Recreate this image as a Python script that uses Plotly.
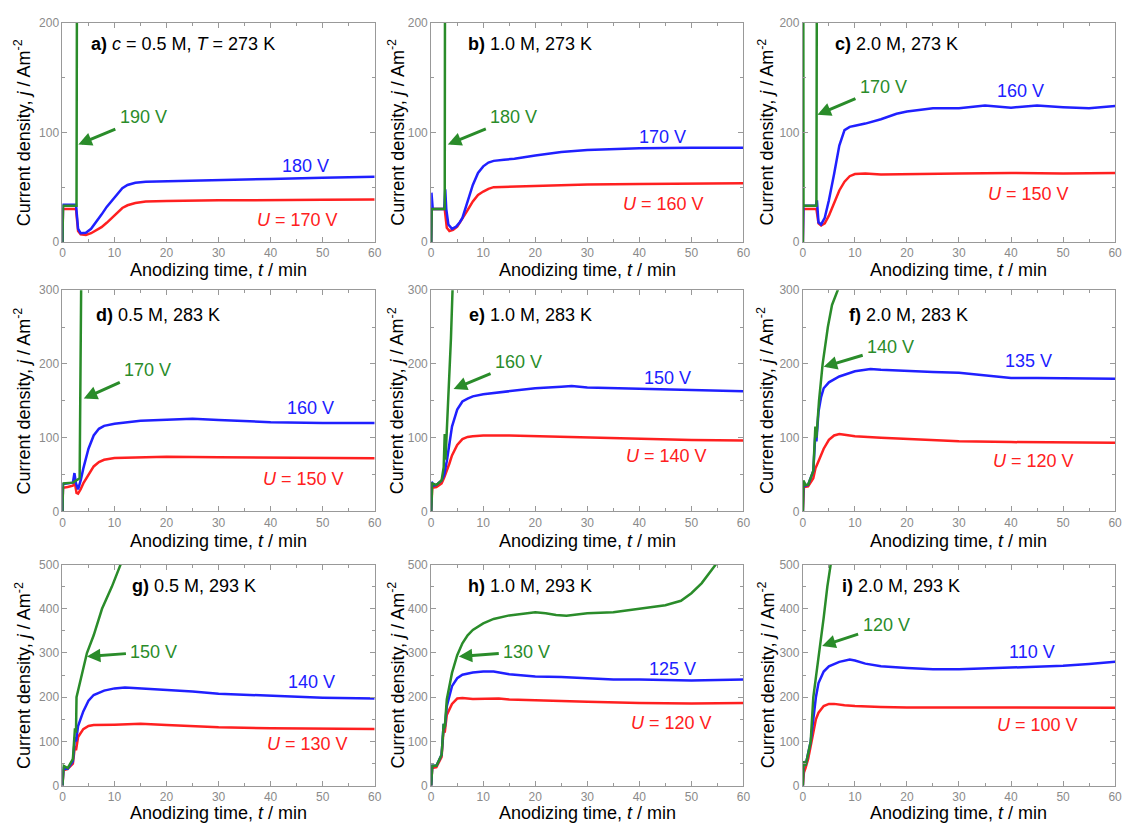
import plotly.graph_objects as go

# ---------------- data (t / min, j / A m^-2) ----------------
A_RED = [(0,0),(0.1,30),(2.6,30),(3.0,10),(3.5,7),(4.5,6.5),(5.5,8),(6.5,10.5),(7.5,13.5),(8.5,17.5),(9.5,22),(10.5,27),(11.5,31),(12.5,33.5),(14,35.5),(16,37),(20,37.5),(30,38),(40,38),(50,38.5),(60,38.8)]
A_BLUE = [(0,0),(0.1,34),(2.6,34),(3.0,12),(3.5,8),(4.5,8.5),(5.5,12),(6.5,18),(7.5,25),(8.5,32),(9.5,38),(10.5,44),(11.5,49),(12.5,52),(14,54),(16,55),(20,55.5),(30,56.5),(40,57.5),(50,58.5),(60,59.5)]
A_GREEN = [(0,0),(0.1,33),(2.7,33),(2.85,400)]

B_RED = [(0,0),(0.1,30),(2.6,30),(3.0,13),(3.5,10),(4.2,11),(5,14),(6,21),(7,29),(8,37),(9,43),(10,46),(11,48.5),(12,50),(15,50.5),(20,51),(30,52.5),(40,53),(50,53),(60,53.5)]
B_BLUE = [(0,0),(0.05,45),(0.3,30),(2.5,30),(2.7,48),(2.9,30),(3.3,16),(4,12),(4.8,14),(5.5,18),(6,22),(7,36),(8,52),(9,63),(10,69),(11,72.5),(12,74),(14,75),(16,76),(20,79),(25,82),(30,84),(40,85.5),(50,86),(60,86)]
B_GREEN = [(0,0),(0.1,30),(2.6,30),(2.7,400)]

C_RED = [(0,0),(0.1,30),(2.6,30),(3.0,17),(3.5,15),(4.2,17),(5,24),(6,36),(7,47),(8,55),(9,60),(10,62),(12,62.5),(15,61.5),(20,62),(30,62.5),(40,63),(50,62.5),(60,63)]
C_BLUE = [(0,0),(0.1,33),(2.5,33),(2.7,38),(3.0,18),(3.5,16),(4.2,22),(5,38),(6,62),(7,88),(8,102),(9,105),(10,106),(12,108),(15,112),(18,117),(20,119),(25,122),(30,122),(35,124.5),(40,122.5),(45,124.5),(50,123),(55,122),(60,124)]
C_GREEN = [(0,0),(0.05,400),(0.12,33),(2.6,33),(2.75,400)]

D_RED = [(0,0),(0.1,32),(1,33),(2,35),(2.4,38),(2.7,25),(3.0,24),(3.5,30),(4,38),(5,50),(6,61),(7,67),(8,70),(10,72.5),(15,73.5),(20,74),(30,73.5),(40,73),(50,72),(60,72)]
D_BLUE = [(0,0),(0.1,37),(1,38),(2,39),(2.3,52),(2.6,38),(3.0,30),(3.5,42),(4,58),(5,85),(6,103),(7,112),(8,116),(10,119),(15,123),(20,124.5),(25,125.5),(30,124),(40,121),(50,120),(60,120)]
D_GREEN = [(0,0),(0.1,38),(2,39),(3.3,45),(3.7,400)]

E_RED = [(0,0),(0.2,32),(1,33),(2,38),(2.5,46),(3,55),(3.5,65),(4,76),(5,90),(6,98),(7,101),(8,102),(10,103),(15,103),(20,102),(30,100),(40,98),(50,97),(60,96)]
E_BLUE = [(0,0),(0.1,40),(0.5,35),(1,36),(2,42),(2.5,50),(3,68),(3.5,92),(4,115),(5,138),(6,149),(7,153),(8,156),(10,159),(15,163),(20,167),(25,169),(27,170),(30,168),(40,166),(50,164),(60,163)]
E_GREEN = [(0,0),(0.2,38),(1,36),(2,42),(2.4,60),(2.6,105),(2.75,70),(3.0,110),(3.4,160),(3.8,235),(4.1,300),(4.3,340)]

F_RED = [(0,0),(0.2,33),(1,34),(2,45),(2.4,58),(2.7,62),(3,68),(4,85),(5,97),(6,103),(7,105),(8,104),(10,102),(15,100),(20,98),(30,95),(40,94),(50,93),(60,93)]
F_BLUE = [(0,0),(0.1,40),(0.5,35),(1,36),(2,55),(2.4,105),(2.6,95),(3,135),(3.5,155),(4,167),(5,175),(7,183),(10,190),(13,193),(15,192),(20,190),(25,189),(30,188),(35,185),(40,181),(45,181),(50,181),(55,180),(60,180)]
F_GREEN = [(0,0),(0.1,42),(0.5,36),(1,36),(2,55),(2.4,115),(2.6,100),(3.1,150),(3.8,200),(4.8,250),(5.6,280),(6.7,300),(7.0,310)]

G_RED = [(0,0),(0.2,35),(1,38),(2,50),(2.4,90),(2.6,80),(3,110),(4,128),(5,135),(6,137),(10,138),(15,140),(20,137),(30,132),(40,130),(50,129),(60,128)]
G_BLUE = [(0,0),(0.2,40),(1,38),(2,55),(2.4,110),(2.6,100),(3,135),(4,168),(5,192),(6,205),(8,215),(10,220),(12,222),(15,220),(20,215),(25,213),(30,208),(40,203),(50,199),(60,197)]
G_GREEN = [(0,0),(0.2,45),(1,40),(2,60),(2.4,130),(2.6,120),(2.7,200),(3.7,250),(4.7,300),(6,340),(7.6,400),(9.5,450),(11.2,500),(11.5,510)]

H_RED = [(0,0),(0.2,40),(1,42),(2,65),(2.4,130),(2.6,120),(3,160),(4,185),(5,197),(6,198),(8,196),(10,196),(13,197),(15,195),(20,193),(30,190),(40,187),(50,186),(60,187)]
H_BLUE = [(0,0),(0.2,45),(1,45),(2,70),(2.4,140),(2.6,130),(3,180),(4,225),(5,243),(6,251),(8,256),(10,258),(12,258),(15,252),(20,247),(25,246),(30,243),(35,240),(40,240),(45,239),(50,238),(55,239),(60,240)]
H_GREEN = [(0,0),(0.2,45),(1,45),(2,70),(2.4,140),(2.6,130),(3,195),(4,255),(5,295),(6,322),(7,340),(8,352),(10,367),(12,377),(15,385),(18,390),(20,392),(22,390),(24,386),(26,384),(28,387),(30,390),(35,392),(40,400),(45,408),(48,418),(50,435),(52,458),(54,490),(55,505)]

I_RED = [(0,0),(0.2,30),(0.5,40),(1,60),(1.5,90),(2,125),(2.5,150),(3,165),(4,180),(5,185),(6,185),(8,182),(10,180),(15,178),(20,177),(30,177),(40,177),(50,176),(60,176)]
I_BLUE = [(0,0),(0.1,55),(0.5,45),(1,70),(1.5,100),(2,150),(2.5,200),(3,232),(4,258),(5,270),(7,280),(9,285),(10,283),(12,276),(15,270),(20,266),(25,263),(30,263),(40,267),(50,271),(55,275),(60,280)]
I_GREEN = [(0,0),(0.1,55),(0.5,45),(1,70),(1.5,100),(2,200),(2.5,245),(3.2,300),(4,380),(4.7,450),(5.4,500),(5.6,520)]

PANEL_TITLES = ["<b>a)</b> <i>c</i> = 0.5 M, <i>T</i> = 273 K", "<b>b)</b> 1.0 M, 273 K", "<b>c)</b> 2.0 M, 273 K",
                "<b>d)</b> 0.5 M, 283 K", "<b>e)</b> 1.0 M, 283 K", "<b>f)</b> 2.0 M, 283 K",
                "<b>g)</b> 0.5 M, 293 K", "<b>h)</b> 1.0 M, 293 K", "<b>i)</b> 2.0 M, 293 K"]
RED_LABELS = ["170 V", "160 V", "150 V", "150 V", "140 V", "120 V", "130 V", "120 V", "100 V"]
BLUE_LABELS = ["180 V", "170 V", "160 V", "160 V", "150 V", "135 V", "140 V", "125 V", "110 V"]
GREEN_LABELS = ["190 V", "180 V", "170 V", "170 V", "160 V", "140 V", "150 V", "130 V", "120 V"]
ROW_YMAX = [200, 300, 500]
X_TICKS = [0, 10, 20, 30, 40, 50, 60]

# arrow heads (data coords) pointing at the green curve
ARROW_HEADS = [(3.05, 89), (3.2, 89), (2.8, 116), (4.1, 153), (4.3, 166), (4.0, 196), (4.7, 292), (5.3, 292), (3.7, 316)]

REDS = [A_RED, B_RED, C_RED, D_RED, E_RED, F_RED, G_RED, H_RED, I_RED]
BLUES = [A_BLUE, B_BLUE, C_BLUE, D_BLUE, E_BLUE, F_BLUE, G_BLUE, H_BLUE, I_BLUE]
GREENS = [A_GREEN, B_GREEN, C_GREEN, D_GREEN, E_GREEN, F_GREEN, G_GREEN, H_GREEN, I_GREEN]

# ---------------- styling / layout ----------------
W, H = 1134, 836
RED = "#ff2020"
BLUE = "#2020ff"
GREEN = "#2a8c2a"
FONT = "Liberation Sans, Arial, Helvetica, sans-serif"

COL_PX = [(60, 375), (432, 747), (807, 1122)]
ROW_PX = [(16, 239), (288, 513), (567, 792)]

# green label centre offset from arrow head (pixels)
ARROW_OFFSETS = [(65, -27), (66, -27), (66, -28), (64, -29), (65, -27), (67, -20), (67, -5), (68, -5), (64, -21)]
TITLE_POS = [(87, 38), (467, 38), (837, 38), (92, 313), (468, 313), (852, 313), (128, 589), (467, 589), (844, 589)]
BLUE_POS = [(305, 162), (665, 132), (1027, 85), (310, 408), (670, 377), (1035, 360), (311, 687), (675, 673), (1038, 656)]
RED_POS = [(297, 217), (666, 200), (1035, 190), (303, 480), (669, 457), (1040, 462), (307, 750), (674, 728), (1044, 730)]
XTITLE_Y = [267, 543, 820]
YTITLE_X = [20, 397, 770]


def px(x):
    return x / W


def py(y):
    return 1 - y / H


fig = go.Figure()
layout = dict(width=W, height=H, margin=dict(l=0, r=0, t=0, b=0),
              paper_bgcolor="white", plot_bgcolor="white", showlegend=False,
              font=dict(family=FONT, size=18, color="black"))
annotations = []

for k in range(9):
    r, c = divmod(k, 3)
    sfx = "" if k == 0 else str(k + 1)
    xa, ya = "x" + sfx, "y" + sfx
    axis_common = dict(showline=True, linecolor="#999999", linewidth=1, mirror="allticks",
                       ticks="inside", ticklen=5, tickcolor="#999999", showgrid=False, zeroline=False,
                       tickfont=dict(size=12, color="#8a8a8a", family=FONT))
    layout["xaxis" + sfx] = dict(axis_common, domain=[px(COL_PX[c][0]), px(COL_PX[c][1])], anchor=ya,
                                 range=[0, 60], tickvals=X_TICKS,
                                 minor=dict(dtick=5, ticks="inside", ticklen=3, tickcolor="#999999"))
    layout["yaxis" + sfx] = dict(axis_common, domain=[py(ROW_PX[r][1]), py(ROW_PX[r][0])], anchor=xa,
                                 range=[0, ROW_YMAX[r]], dtick=100,
                                 minor=dict(dtick=50, ticks="inside", ticklen=3, tickcolor="#999999"))

    for data, col in ((REDS[k], RED), (BLUES[k], BLUE), (GREENS[k], GREEN)):
        fig.add_trace(go.Scatter(x=[p[0] for p in data], y=[p[1] for p in data], mode="lines",
                                 line=dict(color=col, width=2.5), xaxis=xa, yaxis=ya, hoverinfo="skip"))

    # panel title
    tx, ty = TITLE_POS[k]
    annotations.append(dict(xref="paper", yref="paper", x=px(tx), y=py(ty), xanchor="left", yanchor="middle",
                            text=PANEL_TITLES[k], showarrow=False, font=dict(size=18, color="black")))
    # curve labels
    bx, by = BLUE_POS[k]
    annotations.append(dict(xref="paper", yref="paper", x=px(bx), y=py(by), xanchor="center", yanchor="middle",
                            text=BLUE_LABELS[k], showarrow=False, font=dict(size=18, color=BLUE)))
    rx, ry = RED_POS[k]
    annotations.append(dict(xref="paper", yref="paper", x=px(rx), y=py(ry), xanchor="center", yanchor="middle",
                            text="<i>U</i> = " + RED_LABELS[k], showarrow=False, font=dict(size=18, color=RED)))
    # green label with arrow pointing at the green curve
    hx, hy = ARROW_HEADS[k]
    ox, oy = ARROW_OFFSETS[k]
    annotations.append(dict(xref=xa, yref=ya, x=hx, y=hy, ax=ox, ay=oy, axref="pixel", ayref="pixel",
                            text=GREEN_LABELS[k], font=dict(size=18, color=GREEN), borderpad=4,
                            showarrow=True, arrowhead=2, arrowsize=0.9, arrowwidth=3,
                            arrowcolor=GREEN, standoff=0))
    # axis titles
    annotations.append(dict(xref="paper", yref="paper", x=px((COL_PX[c][0] + COL_PX[c][1]) / 2),
                            y=py(XTITLE_Y[r]), xanchor="center", yanchor="middle", showarrow=False,
                            text="Anodizing time, <i>t</i> / min", font=dict(size=18, color="black")))
    annotations.append(dict(xref="paper", yref="paper", x=px(YTITLE_X[c]),
                            y=py((ROW_PX[r][0] + ROW_PX[r][1]) / 2), xanchor="center", yanchor="middle",
                            showarrow=False, textangle=-90,
                            text="Current density, <i>j</i> / Am<sup>-2</sup>", font=dict(size=18, color="black")))

layout["annotations"] = annotations
fig.update_layout(**layout)
fig.write_html("out.html")
